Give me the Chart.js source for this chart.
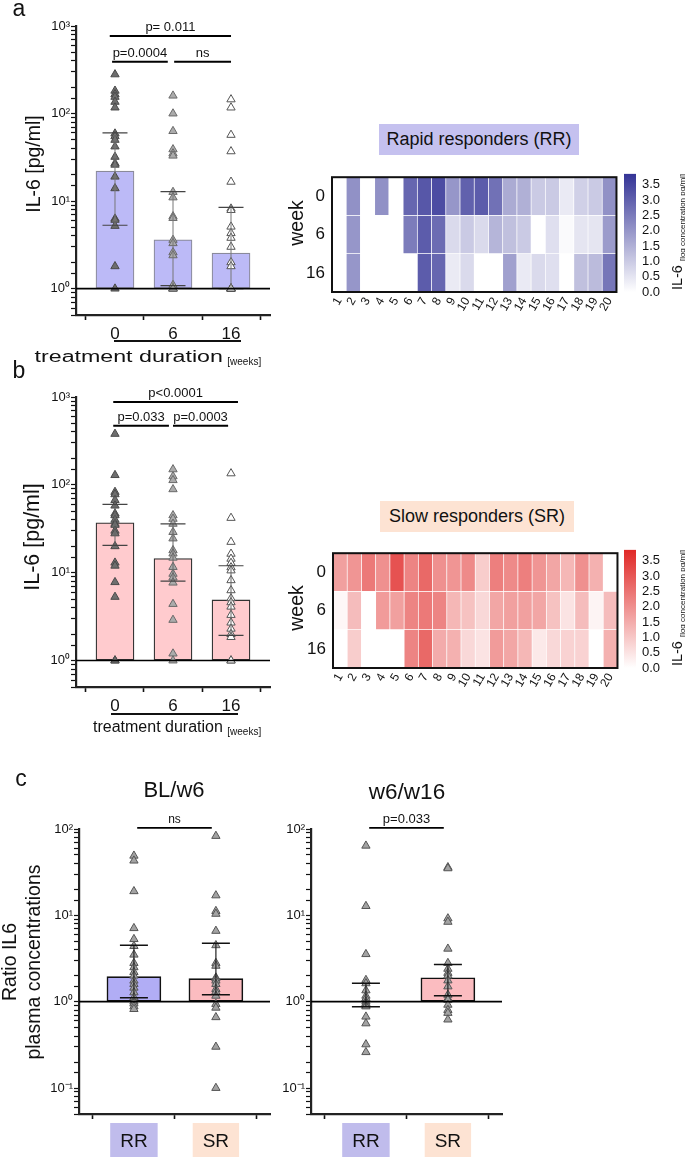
<!DOCTYPE html>
<html><head><meta charset="utf-8">
<script src="https://cdn.jsdelivr.net/npm/chart.js@4.4.1/dist/chart.umd.min.js"></script>
<style>
body{margin:0;background:#fff;}
#fig{position:relative;width:685px;height:1157px;overflow:hidden;background:#fff;font-family:"Liberation Sans",Arial,sans-serif;color:#111;}
canvas{position:absolute;}
.t{position:absolute;white-space:nowrap;line-height:1;transform:translate(-50%,-50%);}
.r{position:absolute;white-space:nowrap;line-height:1;transform:translate(-50%,-50%) rotate(-90deg);}
.box{position:absolute;display:flex;align-items:center;justify-content:center;white-space:nowrap;font-size:18px;}
.sub{font-size:10px;vertical-align:-3px;}
.hl{position:absolute;height:2px;background:#111;}
</style></head><body>
<div id="fig">
<canvas id="cA" width="280" height="345" style="left:0;top:0"></canvas>
<canvas id="hA" width="345" height="160" style="left:280px;top:160px"></canvas>
<canvas id="kA" width="63" height="160" style="left:622px;top:160px"></canvas>
<canvas id="cB" width="280" height="345" style="left:0;top:370px"></canvas>
<canvas id="hB" width="345" height="160" style="left:281px;top:536px"></canvas>
<canvas id="kB" width="63" height="160" style="left:622px;top:536px"></canvas>
<canvas id="c1" width="280" height="357" style="left:0;top:800px"></canvas>
<canvas id="c2" width="280" height="357" style="left:232px;top:800px"></canvas>

<div class="t" style="left:19px;top:8px;font-size:23px">a</div>
<div class="t" style="left:19px;top:370px;font-size:23px">b</div>
<div class="t" style="left:21px;top:778px;font-size:23px">c</div>

<div class="r" style="left:34px;top:164px;font-size:19.5px">IL-6 [pg/ml]</div>
<div class="r" style="left:33px;top:537px;font-size:21.5px">IL-6 [pg/ml]</div>

<div class="hl" style="left:114px;top:340px;width:127px"></div>
<div style="position:absolute;left:93px;top:349px;white-space:nowrap;line-height:1;font-size:16px"><span style="display:inline-block;transform:scaleX(1.45);transform-origin:right center">treatment duration</span> <span class="sub">[weeks]</span></div>
<div class="hl" style="left:111px;top:713px;width:127px"></div>
<div style="position:absolute;left:93px;top:719px;white-space:nowrap;line-height:1;font-size:16px">treatment duration <span class="sub">[weeks]</span></div>

<div class="box" style="left:379px;top:124px;width:200px;height:31px;background:#c5c1ef">Rapid responders (RR)</div>
<div class="box" style="left:380px;top:501px;width:194px;height:31px;background:#fde3d3">Slow responders (SR)</div>
<div class="r" style="left:297px;top:223px;font-size:19.5px">week</div>
<div class="r" style="left:297px;top:608px;font-size:19.5px">week</div>
<div class="r" style="left:678px;top:232px;font-size:14.5px">IL-6 <span style="font-size:8px;vertical-align:-3px">[log concentration pg/ml]</span></div>
<div class="r" style="left:678px;top:608px;font-size:14.5px">IL-6 <span style="font-size:8px;vertical-align:-3px">[log concentration pg/ml]</span></div>

<div class="t" style="left:174px;top:790px;font-size:22px">BL/w6</div>
<div class="t" style="left:407px;top:792px;font-size:22.5px">w6/w16</div>
<div class="r" style="left:10px;top:962px;font-size:19.5px">Ratio IL6</div>
<div class="r" style="left:34px;top:962px;font-size:19.5px">plasma concentrations</div>
</div>
<script>
// ================= DATA =================
const weekLabels = ['0', '6', '16'];
// Panel a: rapid responders, IL-6 [pg/ml]
const rrWeek0 = [280,182,166,155,136,117,59,55,50,42,32,27,26,19,14,6.3,6.1,5.2,1.8,1.0];
const rrWeek6 = [160,100,63,39,35,33,12.7,11,6.7,6.4,3.6,3.3,2.6,2.4,1.1,1.0,1.0,1.0,1.0,1.0];
const rrWeek16 = [145,117,57,37,16.6,8.2,7.9,5.1,4.3,3.8,3.0,2.0,1.8,1.0,1.0,1.0,1.0,1.0,1.0,1.0];
const rrBars = [22, 3.6, 2.55];
const rrErrLow = [5.3, 1.08, 1.0];
const rrErrHigh = [60, 12.8, 8.5];
const rrPLabels = ['p= 0.011', 'p=0.0004', 'ns'];
// Panel b: slow responders
const srWeek0 = [380,129,83,78,67,58,47,45,40,36,35,30,28,20,13,12,7.8,5.3,1.0,1.0];
const srWeek6 = [150,125,113,89,45,41,36,29,24.5,18,16.5,14.8,11.6,9.7,8.8,7.7,4.4,2.9,1.2,1.0];
const srWeek16 = [135,42,22.4,16.4,14.4,12.9,11.5,10.6,8.2,6.3,5.1,4.6,4.1,3.3,2.7,2.3,2.0,1.85,1.0,1.0];
const srBars = [37, 14.5, 4.9];
const srErrLow = [20.5, 8.0, 1.93];
const srErrHigh = [60, 36, 12];
const srPLabels = ['p<0.0001', 'p=0.033', 'p=0.0003'];
// Heatmaps (log concentration), patients 1..20
const patientLabels = ['1','2','3','4','5','6','7','8','9','10','11','12','13','14','15','16','17','18','19','20'];
const heatRRw0 = [0,2.1,0,2.1,0,2.9,3.2,3.4,2.0,3.0,3.1,2.7,1.6,1.5,1.0,1.0,0.4,0.9,1.0,2.1];
const heatRRw6 = [0,2.0,0,0,0,2.5,3.1,2.8,0.7,1.0,0.7,1.4,1.2,1.0,0,0.6,0.1,0.5,0.5,1.9];
const heatRRw16 = [0,2.0,0,0,0,0,3.1,2.9,0.4,0.7,0,0,1.8,0.4,0.7,0.6,0,1.2,1.3,2.6];
const heatSRw0 = [1.7,1.9,2.4,2.0,3.1,2.2,2.7,2.0,1.9,2.1,0.9,2.3,2.1,2.3,1.9,1.6,1.3,2.0,1.4,0];
const heatSRw6 = [0.15,1.2,0,1.8,1.7,2.2,2.4,2.2,1.3,1.1,0.7,1.6,1.7,1.7,1.6,1.1,0.5,1.2,0.2,1.2];
const heatSRw16 = [0,0.9,0,0,0,2.2,2.7,1.5,1.4,0.7,0.5,1.8,1.6,1.3,0.4,0.7,0.8,0.8,0,1.4];
const colorbarTicks = [0,0.5,1.0,1.5,2.0,2.5,3.0,3.5];
const colorbarMax = 3.86;
// Panel c: ratios
const ratioGroups = ['RR', 'SR'];
const blw6RR = [49,43,19,7.1,5.3,4.4,3.5,2.8,2.5,2.2,2.0,1.75,1.6,1.45,1.28,1.12,1.0,0.95,0.88,0.82];
const blw6SR = [83,17,11.2,10.4,6.6,4.5,2.8,2.6,1.9,1.85,1.75,1.6,1.4,1.3,1.17,0.94,0.85,0.66,0.30,0.10];
const blw6Bars = [1.95, 1.85];
const blw6ErrLow = [1.11, 1.2];
const blw6ErrHigh = [4.5, 4.75];
const w6w16RR = [64,12.8,3.55,1.78,1.63,1.35,1.17,1.09,1.0,0.95,0.9,0.88,0.67,0.56,0.32,0.26];
const w6w16SR = [36,35,9.2,8.4,4.1,2.8,2.4,2.15,2.0,1.76,1.5,1.2,1.09,1.05,0.92,0.8,0.74,0.62];
const w6w16Bars = [1.0, 1.89];
const w6w16ErrLow = [0.875, 1.17];
const w6w16ErrHigh = [1.63, 2.7];
const cPLabels = ['ns', 'p=0.033'];
const il6Exps = [0,1,2,3];
const il6TickLabels = ['10⁰','10¹','10²','10³'];
const ratioExps = [-1,0,1,2];
const ratioTickLabels = ['10⁻¹','10⁰','10¹','10²'];

// ================= HELPERS =================
Chart.defaults.font.family = '"Liberation Sans", Arial, sans-serif';
Chart.defaults.color = '#111';
Chart.defaults.animation = false;
Chart.defaults.plugins.legend.display = false;
Chart.defaults.plugins.tooltip.enabled = false;

function logLabel(v, exps, labels) {
  const e = Math.log10(v);
  const i = exps.findIndex(x => Math.abs(x - e) < 1e-6);
  return i >= 0 ? labels[i] : '';
}

function overlay(o) {
  return { id: 'ov', afterDatasetsDraw(chart) {
    const { ctx, chartArea: a, scales: { x, y } } = chart;
    ctx.save();
    o.low.forEach((lo, i) => {
      const xc = x.getPixelForValue(i);
      const yl = y.getPixelForValue(lo), yh = y.getPixelForValue(o.high[i]);
      ctx.strokeStyle = o.errColor; ctx.lineWidth = o.errW;
      ctx.beginPath(); ctx.moveTo(xc, yl); ctx.lineTo(xc, yh); ctx.stroke();
      ctx.strokeStyle = o.capColor; ctx.lineWidth = o.capW;
      ctx.beginPath();
      ctx.moveTo(xc - o.cap / 2, yl); ctx.lineTo(xc + o.cap / 2, yl);
      ctx.moveTo(xc - o.cap / 2, yh); ctx.lineTo(xc + o.cap / 2, yh);
      ctx.stroke();
    });
    const y1 = y.getPixelForValue(1);
    ctx.strokeStyle = '#000'; ctx.lineWidth = 1.6;
    ctx.beginPath(); ctx.moveTo(a.left, y1); ctx.lineTo(a.right, y1); ctx.stroke();
    o.brackets.forEach((b, i) => {
      const yb = y.getPixelForValue(b.y);
      const x1 = x.getPixelForValue(b.x1), x2 = x.getPixelForValue(b.x2);
      ctx.strokeStyle = '#000'; ctx.lineWidth = o.brW;
      ctx.beginPath(); ctx.moveTo(x1, yb); ctx.lineTo(x2, yb); ctx.stroke();
      ctx.fillStyle = '#111'; ctx.font = o.brFont;
      ctx.textAlign = 'center'; ctx.textBaseline = 'alphabetic';
      ctx.fillText(o.pLabels[i], (x1 + x2) / 2, yb - 5);
    });
    ctx.restore();
  }};
}

function dotPanel(id, o) {
  const datasets = [];
  o.groups.forEach((vals, gi) => datasets.push({
    type: 'scatter', data: vals.map(v => ({ x: gi, y: v })),
    pointStyle: 'triangle', pointRadius: 4.8, borderWidth: 1,
    backgroundColor: o.ptFill[gi], borderColor: o.ptBorder[gi], order: 1
  }));
  datasets.push({
    type: 'bar', data: o.bars.map((v, i) => ({ x: i, y: v })), base: 1,
    backgroundColor: o.barFill, borderColor: o.barBorder, borderWidth: o.barBW,
    borderSkipped: false, barThickness: o.barW, order: 5
  });
  new Chart(document.getElementById(id), {
    type: 'bar', data: { datasets },
    options: {
      responsive: false, animation: false,
      layout: { padding: { top: o.padTop, right: 10, bottom: 0, left: 0 } },
      scales: {
        x: { type: 'linear', min: o.xmin, max: o.xmax, offset: false,
          afterBuildTicks: s => { s.ticks = o.xLabels.map((_, i) => ({ value: i })); },
          ticks: { callback: v => o.xLabels[v] ?? '', autoSkip: false, maxRotation: 0,
            font: { size: o.xFont }, color: '#111', padding: o.xPad,
            showLabelBackdrop: !!o.xBack,
            backdropColor: c => o.xBack ? o.xBack[c.index] : 'transparent',
            backdropPadding: { top: 7, bottom: 12, left: 10, right: 10 } },
          grid: { display: true, drawOnChartArea: false, drawTicks: true, tickLength: 5, tickColor: '#111', tickWidth: 1.6 },
          border: { display: true, color: '#222', width: 2.2 },
          afterFit: s => { s.height = o.xH; } },
        y: { type: 'logarithmic', min: o.ymin, max: o.ymax,
          ticks: { callback: v => logLabel(v, o.exps, o.yLabels), autoSkip: false,
            font: { size: 13 }, color: '#111', padding: 1 },
          grid: { display: true, drawOnChartArea: false, drawTicks: true, tickLength: 5, tickColor: '#111', tickWidth: 1.2 },
          border: { display: true, color: '#222', width: 2.2 },
          afterFit: s => { s.width = o.yW; } }
      }
    },
    plugins: [overlay(o)]
  });
}

function lerpColor(maxRGB, v) {
  const f = Math.max(0, Math.min(1, v / colorbarMax));
  const c = maxRGB.map(m => Math.round(255 + (m - 255) * f));
  return `rgb(${c[0]},${c[1]},${c[2]})`;
}

function heatPanel(id, rowsTopToBottom, maxRGB) {
  const datasets = rowsTopToBottom.slice().reverse().map(r => ({
    data: r.map(() => 1),
    backgroundColor: c => lerpColor(maxRGB, r[c.dataIndex]),
    borderColor: 'rgba(255,255,255,0.45)', borderWidth: 0.7, borderSkipped: false,
    barPercentage: 1, categoryPercentage: 1
  }));
  new Chart(document.getElementById(id), {
    type: 'bar', data: { labels: patientLabels, datasets },
    options: {
      responsive: false, animation: false,
      layout: { padding: { top: 11, right: 7, bottom: 0, left: 0 } },
      scales: {
        x: { stacked: true, grid: { display: false, drawTicks: false }, border: { display: false },
          ticks: { minRotation: 60, maxRotation: 60, autoSkip: false, font: { size: 12 }, color: '#111', padding: 3 },
          afterFit: s => { s.height = 28; } },
        y: { stacked: true, min: 0, max: 3,
          afterBuildTicks: s => { s.ticks = weekLabels.map((_, i) => ({ value: i + 0.5 })); },
          ticks: { callback: v => weekLabels[2 - Math.floor(v)], autoSkip: false, font: { size: 17 }, color: '#111', padding: 7 },
          grid: { display: false, drawTicks: false }, border: { display: false },
          afterFit: s => { s.width = 52; } }
      }
    },
    plugins: [{ id: 'frame', afterDraw(chart) {
      const { ctx, chartArea: a } = chart;
      ctx.save(); ctx.strokeStyle = '#111'; ctx.lineWidth = 2;
      ctx.strokeRect(a.left, a.top, a.right - a.left, a.bottom - a.top); ctx.restore();
    } }]
  });
}

function colorbar(id, maxRGB) {
  new Chart(document.getElementById(id), {
    type: 'bar', data: { labels: [''], datasets: [{
      data: [colorbarMax], barPercentage: 1, categoryPercentage: 1,
      backgroundColor: c => {
        const a = c.chart.chartArea; if (!a) return 'transparent';
        const ys = c.chart.scales.y;
        const g = c.chart.ctx.createLinearGradient(0, ys.getPixelForValue(0), 0, ys.getPixelForValue(colorbarMax));
        g.addColorStop(0, lerpColor(maxRGB, 0)); g.addColorStop(1, lerpColor(maxRGB, colorbarMax));
        return g;
      } }] },
    options: {
      responsive: false, animation: false,
      layout: { padding: { top: 11, right: 0, bottom: 28, left: 2 } },
      scales: {
        x: { display: false },
        y: { position: 'right', min: 0, max: colorbarMax,
          afterBuildTicks: s => { s.ticks = colorbarTicks.map(v => ({ value: v })); },
          ticks: { callback: v => v.toFixed(1), autoSkip: false, font: { size: 13 }, color: '#111', padding: 6 },
          grid: { display: false, drawTicks: false }, border: { display: false },
          afterFit: s => { s.width = 49; } }
      }
    }
  });
}

// ================= CHARTS =================
const gray3Fill = ['#6e6e6e', '#ababab', '#ffffff'];
const gray3Border = ['#4a4a4a', '#6a6a6a', '#555555'];

dotPanel('cA', {
  groups: [rrWeek0, rrWeek6, rrWeek16], bars: rrBars, low: rrErrLow, high: rrErrHigh,
  ptFill: gray3Fill, ptBorder: gray3Border,
  barFill: '#bcbaf7', barBorder: '#8a8a9a', barBW: 1.2, barW: 38,
  xmin: -0.672, xmax: 2.672, xLabels: weekLabels, xFont: 17, xPad: 4, xH: 30,
  ymin: 0.5, ymax: 1000, exps: il6Exps, yLabels: il6TickLabels, yW: 76, padTop: 26,
  errColor: '#777', errW: 1, capColor: '#444', capW: 1.2, cap: 25,
  brackets: [{ x1: -0.09, x2: 2.0, y: 770 }, { x1: -0.05, x2: 0.91, y: 390 }, { x1: 1.02, x2: 2.0, y: 390 }],
  pLabels: rrPLabels, brW: 2, brFont: '13px "Liberation Sans", Arial'
});

dotPanel('cB', {
  groups: [srWeek0, srWeek6, srWeek16], bars: srBars, low: srErrLow, high: srErrHigh,
  ptFill: gray3Fill, ptBorder: gray3Border,
  barFill: '#ffcbce', barBorder: '#333333', barBW: 1.3, barW: 38,
  xmin: -0.672, xmax: 2.672, xLabels: weekLabels, xFont: 17, xPad: 4, xH: 28,
  ymin: 0.5, ymax: 1000, exps: il6Exps, yLabels: il6TickLabels, yW: 76, padTop: 27,
  errColor: '#666', errW: 1, capColor: '#444', capW: 1.2, cap: 25,
  brackets: [{ x1: -0.03, x2: 2.12, y: 880 }, { x1: -0.03, x2: 0.93, y: 470 }, { x1: 1.0, x2: 1.95, y: 470 }],
  pLabels: srPLabels, brW: 2, brFont: '13px "Liberation Sans", Arial'
});

heatPanel('hA', [heatRRw0, heatRRw6, heatRRw16], [52, 52, 150]);
heatPanel('hB', [heatSRw0, heatSRw6, heatSRw16], [224, 40, 38]);
colorbar('kA', [52, 52, 150]);
colorbar('kB', [224, 40, 38]);

const cFill = ['#a3a3a3', '#a3a3a3'];
const cBorder = ['#555', '#555'];
dotPanel('c1', {
  groups: [blw6RR, blw6SR], bars: blw6Bars, low: blw6ErrLow, high: blw6ErrHigh,
  ptFill: cFill, ptBorder: cBorder,
  barFill: ['#b1adf5', '#fbbcc0'], barBorder: '#111', barBW: 1.6, barW: 54,
  xmin: -0.67, xmax: 1.66, xLabels: ratioGroups, xFont: 19, xPad: 11, xH: 43,
  xBack: ['#c0bcec', '#fde3d3'],
  ymin: 0.05, ymax: 100, exps: ratioExps, yLabels: ratioTickLabels, yW: 79, padTop: 29,
  errColor: '#222', errW: 1.2, capColor: '#111', capW: 1.5, cap: 28,
  brackets: [{ x1: 0.04, x2: 0.95, y: 103 }],
  pLabels: [cPLabels[0]], brW: 1.6, brFont: '12px "Liberation Sans", Arial'
});
dotPanel('c2', {
  groups: [w6w16RR, w6w16SR], bars: w6w16Bars, low: w6w16ErrLow, high: w6w16ErrHigh,
  ptFill: cFill, ptBorder: cBorder,
  barFill: ['#b1adf5', '#fbbcc0'], barBorder: '#111', barBW: 1.6, barW: 54,
  xmin: -0.67, xmax: 1.66, xLabels: ratioGroups, xFont: 19, xPad: 11, xH: 43,
  xBack: ['#c0bcec', '#fde3d3'],
  ymin: 0.05, ymax: 100, exps: ratioExps, yLabels: ratioTickLabels, yW: 79, padTop: 29,
  errColor: '#222', errW: 1.2, capColor: '#111', capW: 1.5, cap: 28,
  brackets: [{ x1: 0.04, x2: 0.95, y: 103 }],
  pLabels: [cPLabels[1]], brW: 1.6, brFont: '13px "Liberation Sans", Arial'
});
</script>
</body></html>
